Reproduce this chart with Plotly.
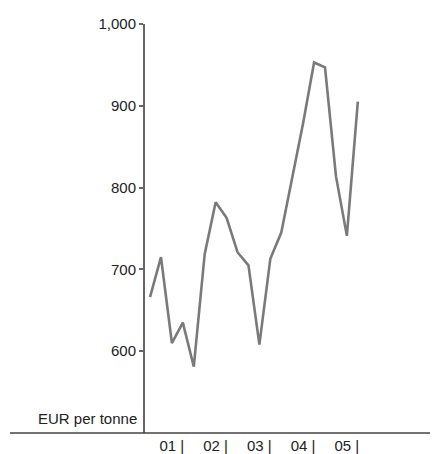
import plotly.graph_objects as go

quarters = ["2001Q1", "2001Q2", "2001Q3", "2001Q4",
            "2002Q1", "2002Q2", "2002Q3", "2002Q4",
            "2003Q1", "2003Q2", "2003Q3", "2003Q4",
            "2004Q1", "2004Q2", "2004Q3", "2004Q4",
            "2005Q1", "2005Q2", "2005Q3", "2005Q4"]
price = [666, 715, 610, 635, 581, 719, 782, 763, 721, 705,
         608, 713, 745, 811, 879, 953, 947, 814, 741, 905]
year_labels = ["01 |", "02 |", "03 |", "04 |", "05 |"]
year_end_idx = [3, 7, 11, 15, 19]
y_ticks = [600, 700, 800, 900, 1000]
y_ticktext = ["600", "700", "800", "900", "1,000"]
unit_label = "EUR per tonne"

FONT = "Liberation Sans, Arial, Helvetica, sans-serif"
x_idx = list(range(len(price)))

fig = go.Figure()
fig.add_trace(go.Scatter(
    x=x_idx, y=price, mode="lines",
    line=dict(color="#7a7a7a", width=2.6),
    text=quarters, hoverinfo="text+y", showlegend=False,
))

fig.update_layout(
    width=435, height=446,
    margin=dict(l=137, r=13, t=16, b=21),
    paper_bgcolor="white", plot_bgcolor="white",
    font=dict(family=FONT, size=15, color="#222"),
    xaxis=dict(
        range=[-0.46, 25.6], showgrid=False, zeroline=False, automargin=False,
        showline=False, ticks="", tickvals=year_end_idx, ticktext=year_labels,
        ticklabelshift=-11, ticklabelstandoff=2,
        tickfont=dict(family=FONT, size=15, color="#222"),
    ),
    yaxis=dict(
        range=[500, 1000], showgrid=False, zeroline=False, automargin=False,
        showline=True, linecolor="#666", linewidth=2,
        ticks="outside", ticklen=4, tickwidth=2, tickcolor="#666",
        tickvals=y_ticks, ticktext=y_ticktext,
        tickfont=dict(family=FONT, size=15, color="#222"),
    ),
    shapes=[dict(type="line", xref="paper", yref="paper",
                 x0=-0.4737, x1=1.0, y0=0, y1=0,
                 line=dict(color="#444", width=1.5))],
    annotations=[dict(text=unit_label, xref="paper", yref="paper",
                      x=0, y=0, xanchor="right", yanchor="bottom",
                      xshift=-6, yshift=4, showarrow=False,
                      font=dict(family=FONT, size=15, color="#222"))],
)

fig.write_html("out.html")
